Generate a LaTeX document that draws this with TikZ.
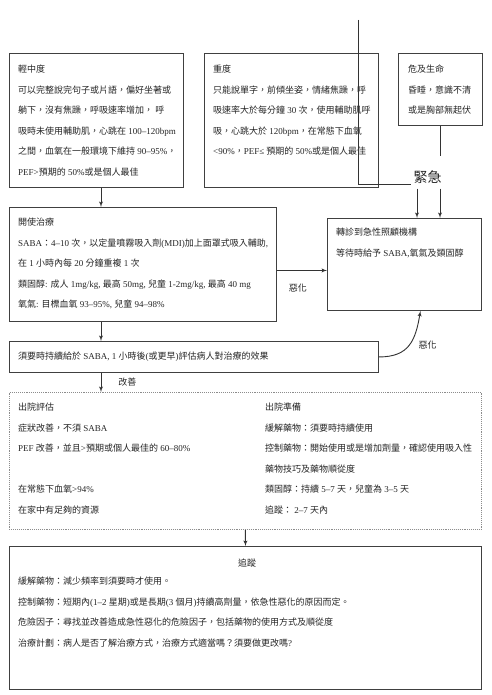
\documentclass[tikz,border=0pt]{standalone}
\usepackage{fontspec}
\setmainfont{Liberation Serif}
\newfontfamily\cjkfont{Noto Sans CJK TC}
% switch to the CJK font for Han characters and fullwidth punctuation
\XeTeXinterchartokenstate=1
\newXeTeXintercharclass\cjkcls
\count255="2E80
\loop\ifnum\count255<"A000 \XeTeXcharclass\count255=\cjkcls \advance\count255 by 1 \repeat
\count255="FF00
\loop\ifnum\count255<"FFF0 \XeTeXcharclass\count255=\cjkcls \advance\count255 by 1 \repeat
\XeTeXinterchartoks 0 \cjkcls = {\cjkfont}
\XeTeXinterchartoks 4095 \cjkcls = {\cjkfont}
\XeTeXinterchartoks \cjkcls 0 = {\rmfamily}
\XeTeXinterchartoks \cjkcls 4095 = {\rmfamily}
\usepackage{tikz}
\usetikzlibrary{shapes,arrows}
\tikzstyle{box} = [rectangle, draw=black!75, line width=0.9pt, inner sep=0pt, anchor=north west]
\tikzstyle{txt} = [align=left, inner sep=0pt, anchor=north west, text=black!85,
    font=\fontsize{9}{20.5}\selectfont]
\tikzstyle{lbl} = [inner sep=0pt, text=black!85, font=\fontsize{9}{11}\selectfont]
\tikzstyle{arrow} = [draw=black!80, line width=0.9pt, -latex']
\tikzstyle{line} = [draw=black!80, line width=0.9pt]

\begin{document}
\begin{tikzpicture}[x=1pt, y=-1pt, >=latex']
    \fill[white] (0,0) rectangle (491,695);
    \useasboundingbox (0,0) rectangle (491,695);

    % boxes
    \node[box, minimum width=174pt, minimum height=134pt] (mild) at (9,53) {};
    \node[box, minimum width=174pt, minimum height=134pt] (severe) at (204,53) {};
    \node[box, minimum width=84pt, minimum height=72pt] (life) at (398,53) {};
    \node[box, minimum width=267pt, minimum height=114pt] (treat) at (9,207) {};
    \node[box, minimum width=154pt, minimum height=92pt] (refer) at (327,218) {};
    \node[box, minimum width=369pt, minimum height=31pt] (reassess) at (9,341) {};
    \node[box, draw=black!45, densely dotted, line width=0.8pt, minimum width=472pt, minimum height=137pt] (discharge) at (9,392) {};
    \node[box, minimum width=472pt, minimum height=143pt] (follow) at (9,546) {};

    % texts
    \node[txt] (mildtxt) at (18,65) {輕中度\\
        可以完整說完句子或片語，偏好坐著或\\
        躺下，沒有焦躁，呼吸速率增加， 呼\\
        吸時未使用輔助肌，心跳在 100–120bpm\\
        之間，血氧在一般環境下維持 90–95\%，\\
        PEF>預期的 50\%或是個人最佳};
    \node[txt] (severetxt) at (213,65) {重度\\
        只能說單字，前傾坐姿，情緒焦躁，呼\\
        吸速率大於每分鐘 30 次，使用輔助肌呼\\
        吸，心跳大於 120bpm，在常態下血氧\\
        <90\%，PEF≤ 預期的 50\%或是個人最佳};
    \node[txt] (lifetxt) at (408,65) {危及生命\\
        昏睡，意識不清\\
        或是胸部無起伏};
    \node[txt] (treattxt) at (18,218) {開使治療\\
        SABA：4–10 次，以定量噴霧吸入劑(MDI)加上面罩式吸入輔助,\\
        在 1 小時內每 20 分鐘重複 1 次\\
        類固醇: 成人 1mg/kg, 最高 50mg, 兒童 1-2mg/kg, 最高 40 mg\\
        氧氣: 目標血氧 93–95\%, 兒童 94–98\%};
    \node[txt] (refertxt) at (336,228) {轉診到急性照顧機構\\
        等待時給予 SABA,氧氣及類固醇};
    \node[txt] (reassesstxt) at (18,352) {須要時持續給於 SABA, 1 小時後(或更早)評估病人對治療的效果};
    \node[txt] (assesstxt) at (18,403) {出院評估\\
        症狀改善，不須 SABA\\
        PEF 改善，並且>預期或個人最佳的 60–80\%\\[20.5pt]
        在常態下血氧>94\%\\
        在家中有足夠的資源};
    \node[txt] (preptxt) at (265,403) {出院準備\\
        緩解藥物：須要時持續使用\\
        控制藥物：開始使用或是增加劑量，確認使用吸入性\\
        藥物技巧及藥物順從度\\
        類固醇：持續 5–7 天，兒童為 3–5 天\\
        追蹤： 2–7 天內};
    \node[lbl] (followhead) at (247,563) {追蹤};
    \node[txt] (followtxt) at (18,577) {緩解藥物：減少頻率到須要時才使用。\\
        控制藥物：短期內(1–2 星期)或是長期(3 個月)持續高劑量，依急性惡化的原因而定。\\
        危險因子：尋找並改善造成急性惡化的危險因子，包括藥物的使用方式及順從度\\
        治療計劃：病人是否了解治療方式，治療方式適當嗎？須要做更改嗎?};

    \node[inner sep=2pt, text=black!85, font=\fontsize{14}{14}\selectfont] (urgent) at (427.5,177) {緊急};

    % connectors
    \coordinate (spine) at (101,0);
    \coordinate (severetop) at (358,20);
    \draw[arrow] (mild.south -| spine) -- (treat.north -| spine);
    \draw[arrow] (treat.south -| spine) -- (reassess.north -| spine);
    \draw[arrow] (reassess.south -| spine) -- node[lbl, right, xshift=17pt] {改善} (discharge.north -| spine);
    \draw[arrow] (discharge.south) -- (follow.north);
    \draw[arrow] ([yshift=-6pt]treat.east) -- node[lbl, below=13pt, xshift=-4pt] {惡化} ([yshift=-6pt]treat.east -| refer.west);
    \draw[arrow] (reassess.east) .. controls +(30,0) and +(-5,30) .. ([xshift=16pt]refer.south);
    \node[lbl] (worse) at (427.5,345) {惡化};
    \draw[line] (life.south) -- ++(0,30);
    \draw[line] (severetop) |- ([yshift=-7pt]urgent.west);
    \draw[arrow] ([xshift=-10.5pt,yshift=-3pt]urgent.south) -- ([xshift=-10.5pt]urgent.south |- refer.north);
    \draw[arrow] ([xshift=12.5pt,yshift=-3pt]urgent.south) -- ([xshift=12.5pt]urgent.south |- refer.north);
\end{tikzpicture}
\end{document}
